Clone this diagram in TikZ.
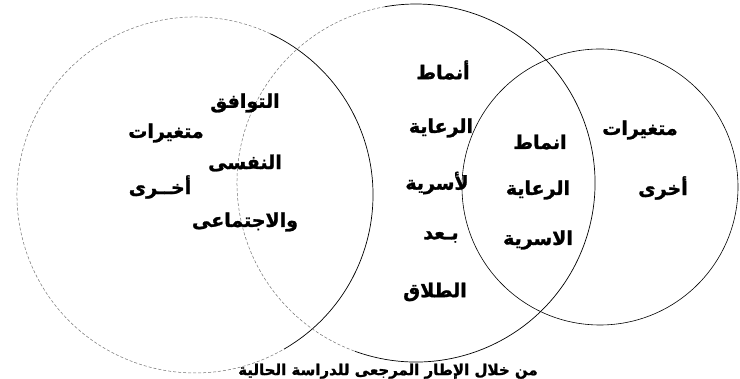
\documentclass[tikz,border=0pt]{standalone}
\usepackage{fontspec}
\newfontfamily\arabicfont[Script=Arabic,BoldFeatures={FakeBold=1.3}]{DejaVu Sans}
\TeXXeTstate=1
\newcommand{\ar}[1]{{\arabicfont\bfseries\beginR #1\endR}}
\begin{document}
\begin{tikzpicture}[x=1pt,y=1pt,
  ring/.style={circle,draw=none,inner sep=0pt,outer sep=0pt},
  faint/.style={draw=black!55,line width=0.5pt,densely dashed},
  firm/.style={draw=black,line width=0.7pt},
  lbl/.style={font=\fontsize{19}{22}\selectfont,inner sep=1pt},
  foot/.style={font=\fontsize{15}{17}\selectfont,inner sep=0pt,anchor=south}]
\clip (0,0) rectangle (740,379);
\fill[white] (0,0) rectangle (740,379);
% circles as named nodes
\node[ring,minimum size=356pt] (L) at (195,184) {};
\node[ring,minimum size=358pt] (M) at (416,196) {};
\node[ring,minimum size=276pt] (R) at (600,192) {};
% left circle: faint on the left, firm on the right
\draw[faint] (L.65) arc[start angle=65,end angle=300,radius=178pt];
\draw[firm] (L.300) arc[start angle=-60,end angle=65,radius=178pt];
% middle circle: faint top-left, firm elsewhere
\draw[faint] (M.100) arc[start angle=100,end angle=250,radius=179pt];
\draw[firm] (M.250) arc[start angle=250,end angle=460,radius=179pt];
% right circle
\draw[firm,line width=0.6pt] (R.0) arc[start angle=0,end angle=360,radius=138pt];
% labels
\node[lbl] (a1) at (166,246) {\ar{متغيرات}};
\node[lbl] (a2) at (160,192) {\ar{أخــرى}};
\node[lbl] (b1) at (245,276) {\ar{التوافق}};
\node[lbl] (b2) at (245,216) {\ar{النفسى}};
\node[lbl] (b3) at (245,157) {\ar{والاجتماعى}};
\node[lbl] (c1) at (443,309) {\ar{أنماط}};
\node[lbl] (c2) at (441,251) {\ar{الرعاية}};
\node[lbl] (c3) at (437,196) {\ar{لأسرية}};
\node[lbl] (c4) at (441,142) {\ar{بـعد}};
\node[lbl] (c5) at (435,87) {\ar{الطلاق}};
\node[lbl] (d1) at (540,237) {\ar{انماط}};
\node[lbl] (d2) at (538,189) {\ar{الرعاية}};
\node[lbl] (d3) at (538,139) {\ar{الاسرية}};
\node[lbl] (e1) at (640,249) {\ar{متغيرات}};
\node[lbl] (e2) at (663,191) {\ar{أخرى}};
\node[foot] (f1) at (388,0) {\ar{من خلال الإطار المرجعى للدراسة الحالية}};
\end{tikzpicture}
\end{document}
